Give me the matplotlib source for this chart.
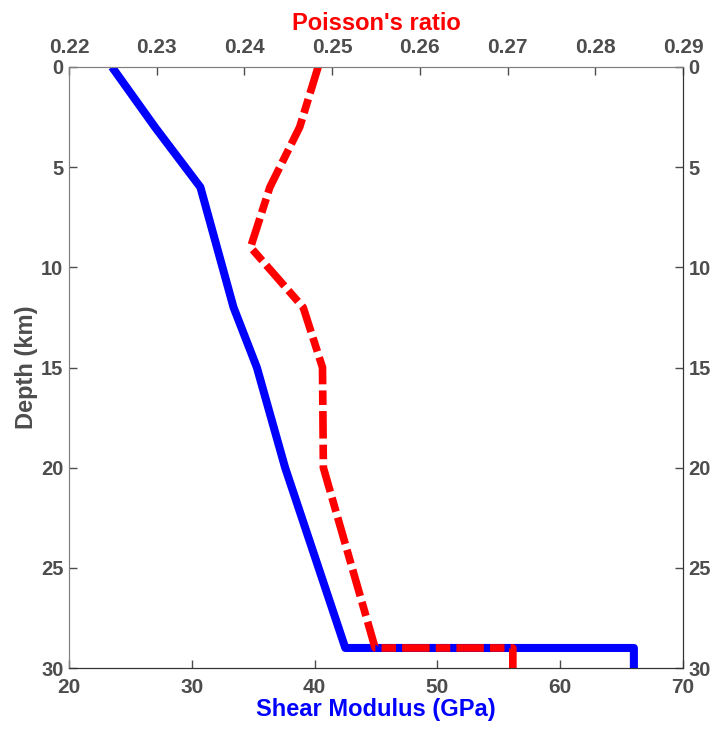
import numpy as np
import matplotlib
matplotlib.use("Agg")
import matplotlib.pyplot as plt

plt.rcParams['font.family'] = ['Liberation Sans', 'DejaVu Sans']
plt.rcParams['font.weight'] = 'bold'

# shear modulus profile
shear_depth = [0, 3, 6, 12, 15, 20, 29, 29, 30]
shear_gpa = [23.5, 27.0, 30.7, 33.4, 35.3, 37.6, 42.5, 66.0, 66.0]

# poisson's ratio profile
pois_depth = [0, 3, 6, 9, 12, 15, 20, 29, 29, 30]
pois_ratio = [0.2484, 0.2463, 0.2429, 0.2407, 0.2467, 0.2489, 0.2490, 0.2549, 0.2706, 0.2706]

shear_ticks = [20, 30, 40, 50, 60, 70]
pois_ticks = [0.22, 0.23, 0.24, 0.25, 0.26, 0.27, 0.28, 0.29]
depth_ticks = [0, 5, 10, 15, 20, 25, 30]

gray = '#4d4d4d'

fig = plt.figure(figsize=(7.13, 7.31), dpi=100)
ax = fig.add_axes([69/713, 63/731, 614/713, 601/731])

ax.plot(shear_gpa, shear_depth, color='#0000ff', lw=5.8, solid_joinstyle='round', solid_capstyle='butt')
ax.set_xlim(20, 70)
ax.set_ylim(30, 0)
ax.set_xticks(shear_ticks)
ax.set_yticks(depth_ticks)
ax.tick_params(direction='in', length=6, width=1, labelsize=15, labelcolor=gray,
               colors=gray, right=True, labelright=True, top=False, pad=7)
ax.tick_params(axis='y', pad=4, labelsize=14.5)
for t in ax.get_xticklabels() + ax.get_yticklabels():
    t.set_fontweight('bold')
ax.set_xlabel('Shear Modulus (GPa)', color='#0000ff', fontsize=17, fontweight='bold', labelpad=1)
ax.set_ylabel('Depth (km)', color=gray, fontsize=17, fontweight='bold', labelpad=2)

ax2 = ax.twiny()
ax2.plot(pois_ratio, pois_depth, color='#ff0000', lw=5.5, dashes=(3.6, 0.8, 1.9, 0.8),
         dash_joinstyle='round', dash_capstyle='butt')
ax2.set_xlim(0.22, 0.29)
ax2.set_xticks(pois_ticks)
ax2.set_xticklabels(['%.2f' % v for v in pois_ticks])
ax2.tick_params(direction='in', length=6, width=1, labelsize=15, labelcolor=gray,
                colors=gray, pad=7)
for t in ax2.get_xticklabels():
    t.set_fontweight('bold')
ax2.set_xlabel("Poisson's ratio", color='#ff0000', fontsize=17, fontweight='bold', labelpad=6)

for a in (ax, ax2):
    a.spines['left'].set_color('#808080')
    a.spines['top'].set_color('#808080')
    a.spines['bottom'].set_color('#333333')
    a.spines['right'].set_color('#333333')

fig.savefig('out.png', dpi=100)
